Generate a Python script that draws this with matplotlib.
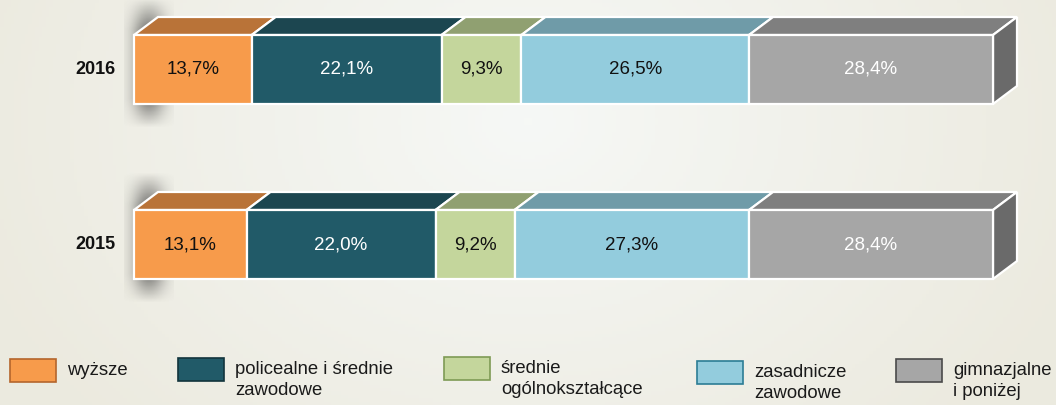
import numpy as np
import matplotlib.pyplot as plt
from matplotlib.patches import Polygon, Rectangle

plt.rcParams['font.family'] = ['Liberation Sans', 'DejaVu Sans']

years = ['2016', '2015']
categories = ['wyższe', 'policealne i średnie\nzawodowe', 'średnie\nogólnokształcące',
              'zasadnicze\nzawodowe', 'gimnazjalne\ni poniżej']
values = {
    '2016': [13.7, 22.1, 9.3, 26.5, 28.4],
    '2015': [13.1, 22.0, 9.2, 27.3, 28.4],
}
labels = {
    '2016': ['13,7%', '22,1%', '9,3%', '26,5%', '28,4%'],
    '2015': ['13,1%', '22,0%', '9,2%', '27,3%', '28,4%'],
}

front = ['#F79B4B', '#215A68', '#C4D69C', '#93CCDD', '#A6A6A6']
top = ['#B97338', '#1C4650', '#90A071', '#6F9BA8', '#7F7F7F']
side = '#6A6A6A'
txt_col = ['#111111', 'white', '#111111', '#111111', 'white']
edge_leg = ['#B4652C', '#12343C', '#7E9A55', '#2C7D95', '#4A4A4A']

W, H = 1056, 405
fig = plt.figure(figsize=(W / 100, H / 100), dpi=100)
ax = fig.add_axes([0, 0, 1, 1])
ax.set_xlim(0, W)
ax.set_ylim(H, 0)
ax.axis('off')

# background gradient
xx = np.linspace(0, 1, 300)
yy = np.linspace(0, 1, 120)
gx, gy = np.meshgrid(xx, yy)
d = np.sqrt(((gx - 0.5) / 0.55) ** 2 + ((gy - 0.3) / 1.1) ** 2)
t = np.clip(d, 0, 1)[..., None]
c_in = np.array([0.965, 0.973, 0.965])
c_out = np.array([0.925, 0.918, 0.875])
bg = c_in * (1 - t) + c_out * t
ax.imshow(bg, extent=[0, W, H, 0], aspect='auto', zorder=0)

x0, span = 134, 859
bar_h = 69
dx, dy = 24, 18
y_tops = {'2016': 35, '2015': 210}

for yr in years:
    yt = y_tops[yr]
    # blurred shadow wall behind the left edge
    sx = np.linspace(0, 1, 60)
    sy = np.linspace(0, 1, 100)
    ax_, ay_ = np.meshgrid(sx, sy)
    prof_x = np.exp(-((ax_ - 0.5) / 0.32) ** 2)
    prof_y = np.clip(np.minimum(ay_ / 0.25, (1 - ay_) / 0.22), 0, 1)
    alpha = 0.65 * prof_x * prof_y
    img = np.zeros((100, 60, 4))
    img[..., :3] = 0.22
    img[..., 3] = alpha
    ax.imshow(img, extent=[124, 174, yt + bar_h + 24, yt - 38], aspect='auto', zorder=1)

    vals = values[yr]
    cum = np.concatenate([[0], np.cumsum(vals)])
    for i, v in enumerate(vals):
        xa = x0 + span * cum[i] / 100
        xb = x0 + span * cum[i + 1] / 100
        ax.add_patch(Polygon([(xa, yt), (xa + dx, yt - dy), (xb + dx, yt - dy), (xb, yt)],
                             closed=True, facecolor=top[i], edgecolor='white', lw=1.6, zorder=3))
        ax.add_patch(Rectangle((xa, yt), xb - xa, bar_h, facecolor=front[i],
                               edgecolor='white', lw=1.6, zorder=4))
        ax.text((xa + xb) / 2, yt + bar_h / 2, labels[yr][i], ha='center', va='center',
                fontsize=13.5, color=txt_col[i], zorder=5)
    xe = x0 + span * cum[-1] / 100
    ax.add_patch(Polygon([(xe, yt), (xe + dx, yt - dy), (xe + dx, yt - dy + bar_h), (xe, yt + bar_h)],
                         closed=True, facecolor=side, edgecolor='white', lw=1.6, zorder=3))
    ax.text(115, yt + bar_h / 2, yr, ha='right', va='center', fontsize=13,
            fontweight='bold', color='#111111', zorder=5)

# legend
leg_x = [10, 178, 444, 697, 896]
leg_y = [359, 358, 357, 361, 359]
for i, cat in enumerate(categories):
    ax.add_patch(Rectangle((leg_x[i], leg_y[i]), 46, 23, facecolor=front[i],
                           edgecolor=edge_leg[i], lw=1.2, zorder=5))
    ax.text(leg_x[i] + 57, leg_y[i] + 3, cat, ha='left', va='top', fontsize=13.3,
            color='#1a1a1a', linespacing=1.3, zorder=5)

fig.savefig('out.png', dpi=100)
